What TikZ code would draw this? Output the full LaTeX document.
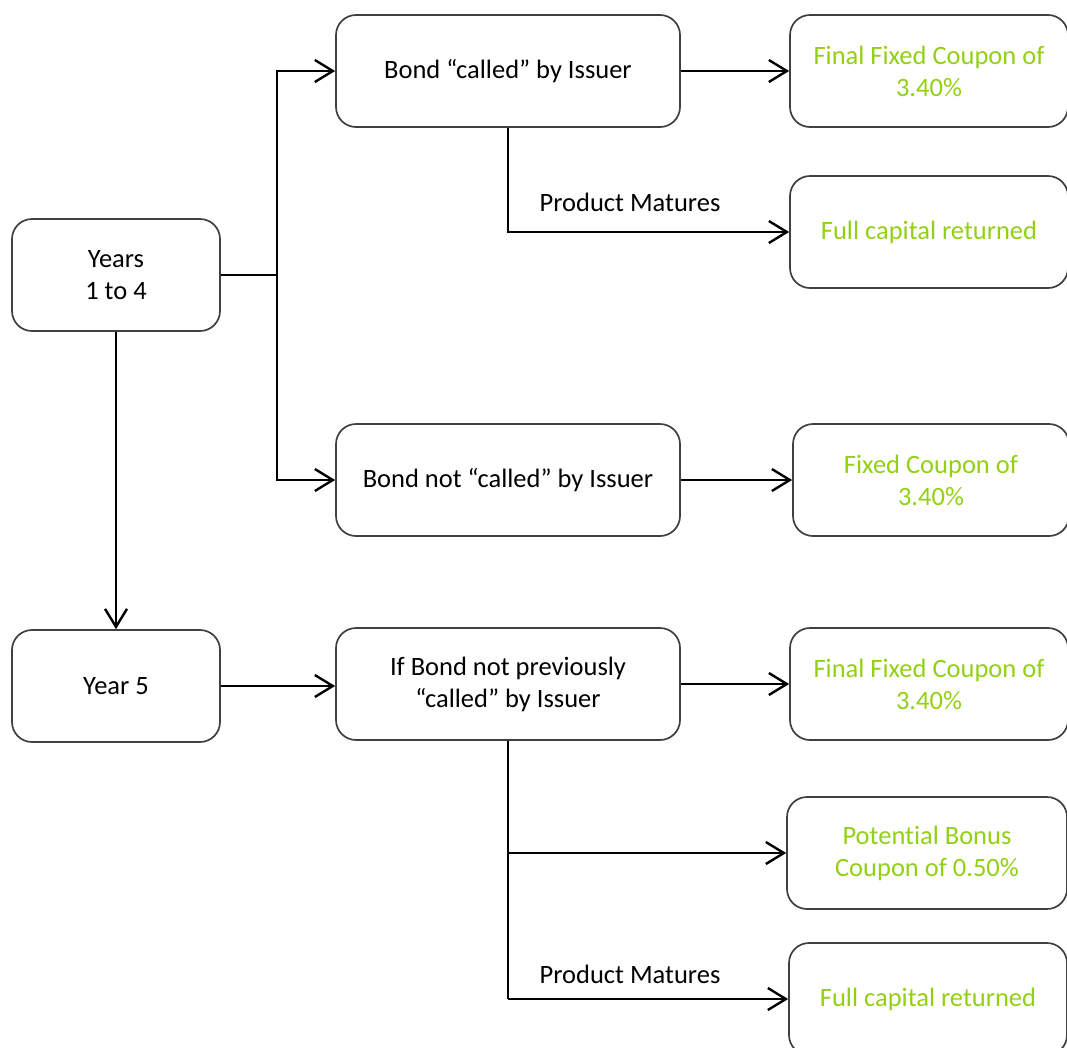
\documentclass[tikz,border=0pt]{standalone}
\usepackage{fontspec}
\setmainfont{Carlito}[RawFeature={-liga;-clig;-calt;-dlig}]
\usetikzlibrary{arrows.meta}
\definecolor{coupongreen}{RGB}{146,208,20}
\definecolor{boxgrey}{RGB}{64,64,64}

\begin{document}
\begin{tikzpicture}[
x=1pt, y=-1pt,
stepnode/.style={rectangle, rounded corners=20pt, draw=boxgrey, line width=1.7pt, minimum height=112pt, align=center, inner sep=0pt, font=\fontsize{26.5}{32}\selectfont},
yearnode/.style={stepnode, minimum width=208pt},
bondnode/.style={stepnode, minimum width=344pt},
outnode/.style={stepnode, minimum width=278pt, text=coupongreen},
labelnode/.style={font=\fontsize{26.5}{32}\selectfont},
arr/.style={line width=2.4pt, -{Straight Barb[length=18pt, width=22pt, line width=2.4pt]}},
link/.style={line width=2.4pt}
]
\useasboundingbox (0,0) rectangle (1067,1047);

\node[yearnode] (Y14) at (116,275) {Years\\1 to 4};
\node[yearnode] (Y5) at (116,686) {Year 5};

\node[bondnode] (called) at (508,71) {Bond “called” by Issuer};
\node[bondnode] (notcalled) at (508,480) {Bond not “called” by Issuer};
\node[bondnode] (ifnot) at (508,684) {If Bond not previously\\“called” by Issuer};

\node[outnode] (final1) at (929,71) {Final Fixed Coupon of\\3.40\%};
\node[outnode] (full1) at (929,232) {Full capital returned};
\node[outnode, minimum width=276pt] (fixed) at (931,480) {Fixed Coupon of\\3.40\%};
\node[outnode] (final2) at (929,684) {Final Fixed Coupon of\\3.40\%};
\node[outnode, minimum width=280pt] (bonus) at (927,853) {Potential Bonus\\Coupon of 0.50\%};
\node[outnode] (full2) at (928,999) {Full capital returned};

\coordinate (fork) at (277,275);
\coordinate (mat1) at (called.south |- full1.west);
\coordinate (bon) at (ifnot.south |- bonus.west);
\coordinate (mat2) at (ifnot.south |- full2.west);

\node[labelnode] (pm1) at (630,202) {Product Matures};
\node[labelnode] (pm2) at (630,974) {Product Matures};

\draw[link] (Y14.east) -- (fork);
\draw[arr] (fork) |- (called.west);
\draw[arr] (fork) |- (notcalled.west);
\draw[arr] (Y14.south) -- (Y5.north);
\draw[arr] (Y5.east) -- (Y5.east -| ifnot.west);

\draw[arr] (called.east) -- (final1.west);
\draw[arr] (called.south) -- (mat1) -- (full1.west);
\draw[arr] (notcalled.east) -- (fixed.west);

\draw[arr] (ifnot.east) -- (final2.west);
\draw[link] (ifnot.south) -- (mat2);
\draw[arr] (bon) -- (bonus.west);
\draw[arr] (mat2) -- (full2.west);
\end{tikzpicture}
\end{document}
